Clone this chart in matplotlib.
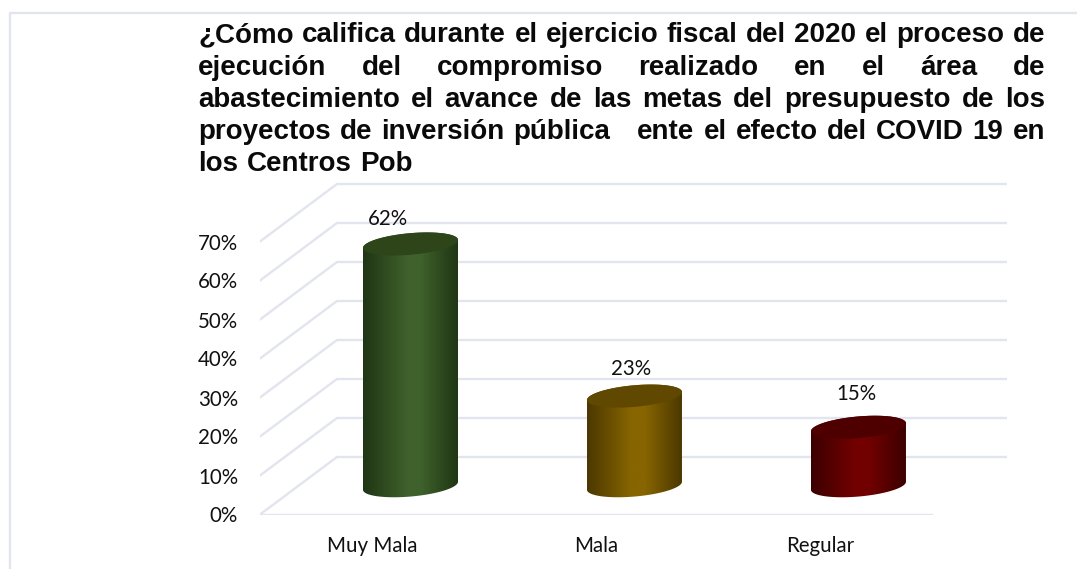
import numpy as np
import matplotlib
matplotlib.use('Agg')
import matplotlib.pyplot as plt
from matplotlib.colors import LinearSegmentedColormap
from matplotlib.patches import Polygon

categorias = ['Muy Mala', 'Mala', 'Regular']
valores = [62, 23, 15]
ticks_y = [0, 10, 20, 30, 40, 50, 60, 70]
titulo = ['¿Cómo califica durante el ejercicio fiscal del 2020 el proceso de',
          'ejecución del compromiso realizado en el área de',
          'abastecimiento el avance de las metas del presupuesto de los',
          'proyectos de inversión pública   ente el efecto del COVID 19 en',
          'los Centros Pob']

# colores de cada cilindro: borde, centro, tapa
colores = [('#1f3614', '#3f612b', '#2d4519'),
           ('#4c3800', '#876500', '#614800'),
           ('#3c0000', '#720000', '#4e0000')]
desfase_etiquetas = [(-0.10, 3.66), (-0.016, 4.17), (-0.007, 5.76)]

W, H = 1077, 569
GRIS = '#e2e5ed'
fig = plt.figure(figsize=(W / 100, H / 100), dpi=100)

# eje en pixeles: x de 260 a 1007, y de 514.5 hacia arriba a 3.9 px por cada 1%
ax = fig.add_axes([260 / W, (H - 514.5) / H, 747 / W, 351 / H])
ax.set_xlim(-0.5, 2.835)
ax.set_ylim(0, 90)
for s in ax.spines.values():
    s.set_visible(False)
ax.set_facecolor('none')

prof_x = 77 / 224
prof_y = 57.5 / 3.9

# paredes y piso con la perspectiva del grafico 3D
for t in ticks_y:
    ax.plot([-0.5, -0.5 + prof_x, 2.835], [t, t + prof_y, t + prof_y],
            color=GRIS, lw=1.7, solid_joinstyle='miter', zorder=1)
ax.plot([-0.5, 2.5], [0, 0], color=GRIS, lw=1.7, zorder=1)

# cilindros
a = 47.5 / 224
b = 10.8 / 3.9
k = 4.0 / 3.9
ang = np.linspace(0, 2 * np.pi, 200)
for i, (v, c) in enumerate(zip(valores, colores)):
    cx = i + prof_x / 2
    y0 = prof_y / 2
    y1 = y0 + v
    lado = np.linspace(np.pi, 0, 100)
    # contorno: arco inferior de la base y arco superior de la tapa
    xb = cx + a * np.cos(lado)
    yb = y0 - b * np.sin(lado) + k * np.cos(lado)
    xt = cx + a * np.cos(lado[::-1])
    yt = y1 + b * np.sin(lado[::-1]) + k * np.cos(lado[::-1])
    cuerpo = Polygon(np.column_stack([np.r_[xb, xt], np.r_[yb, yt]]), closed=True,
                     facecolor='none', edgecolor='none', transform=ax.transData)
    ax.add_patch(cuerpo)
    cmap = LinearSegmentedColormap.from_list('c', [c[0], c[1], c[1], c[0]])
    grad = np.interp(np.linspace(0, 1, 256), [0, 0.5, 0.58, 1], [0, 0.36, 0.64, 1]).reshape(1, -1)
    im = ax.imshow(grad, cmap=cmap, aspect='auto', zorder=3, vmin=0, vmax=1,
                   extent=[cx - a, cx + a, y0 - b - k, y1 + b + k])
    im.set_clip_path(cuerpo)
    ax.fill(cx + a * np.cos(ang), y1 + b * np.sin(ang) + k * np.cos(ang), color=c[2], lw=0, zorder=4)
    dx, dy = desfase_etiquetas[i]
    ax.text(cx + dx, y1 + b + dy, f'{v}%', ha='center', va='center',
            fontsize=14.8, family='Lato', color='#111111', zorder=5)

ax.set_xlim(-0.5, 2.835)
ax.set_ylim(0, 90)
ax.set_xticks(range(len(categorias)))
ax.set_xticklabels(categorias, family='Lato', fontsize=14.8, color='#111111')
ax.set_yticks(ticks_y)
ax.set_yticklabels([f'{t}%' for t in ticks_y], family='Lato', fontsize=14.8, color='#111111')
ax.tick_params(axis='both', length=0)
ax.tick_params(axis='x', pad=15.5)
ax.tick_params(axis='y', pad=15.8)

# marco claro de la imagen original
fig.add_artist(plt.Line2D([10 / W, 10 / W, 1], [0, 1 - 13 / H, 1 - 13 / H],
                          color=GRIS, lw=1.7, transform=fig.transFigure))

# titulo justificado palabra por palabra
renderer = fig.canvas.get_renderer()
izq, der = 198, 1045
for n, linea in enumerate(titulo):
    base = 42.5 + n * 32.2
    palabras = linea.split(' ')
    textos = []
    anchos = []
    for p in palabras:
        t = fig.text(0, 1 - base / H, p, fontsize=20, fontweight='bold',
                     family='Liberation Sans', color='#0a0a0a', va='baseline')
        textos.append(t)
        anchos.append(t.get_window_extent(renderer).width if p else 0)
    if n < len(titulo) - 1:
        hueco = (der - izq - sum(anchos)) / (len(palabras) - 1)
    else:
        hueco = 8.5
    x = izq
    for t, w in zip(textos, anchos):
        t.set_x(x / W)
        x += w + hueco

fig.savefig('out.png', dpi=100)
